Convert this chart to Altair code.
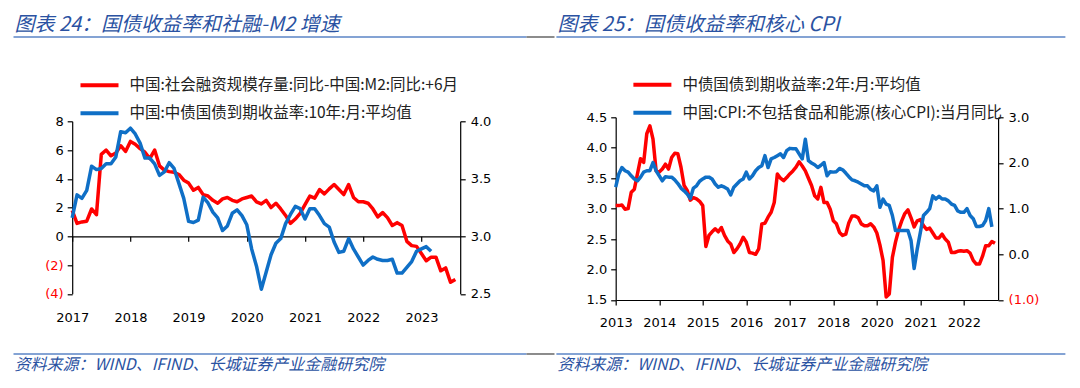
import json
import altair as alt
import pandas as pd

RED = "#FF0000"
BLUE = "#0F6FC6"
TITLE_COLOR = "#2A52A2"
RULE_BLUE = "#5B85C6"
RULE_GRAY = "#666666"
CJK = "Noto Sans CJK SC"
NUM = "DejaVu Sans"

# ---------------- texts ----------------
TITLE_L = "图表 24：国债收益率和社融-M2 增速"
TITLE_R = "图表 25：国债收益率和核心 CPI"
SOURCE = "资料来源：WIND、IFIND、长城证券产业金融研究院"

L_RED_NAME = "中国:社会融资规模存量:同比-中国:M2:同比:+6月"
L_BLUE_NAME = "中国:中债国债到期收益率:10年:月:平均值"
R_RED_NAME = "中债国债到期收益率:2年:月:平均值"
R_BLUE_NAME = "中国:CPI:不包括食品和能源(核心CPI):当月同比"

# ---------------- left chart data (monthly, from 2017-01) ----------------
left_red = [1.8, 0.9, 1.0, 1.05, 1.9, 1.5, 5.7, 6.0, 5.6, 5.8,
            6.3, 5.9, 6.6, 6.4, 6.1, 5.85, 5.4, 6.0, 4.9, 4.6,
            4.5, 4.45, 4.3, 3.9, 3.7, 3.2, 3.4, 2.9, 2.8, 2.5,
            2.3, 2.6, 2.7, 2.5, 2.4, 2.6, 2.7, 2.8, 2.4, 2.25,
            2.5, 2.0, 2.3, 1.9, 1.45, 0.9, 1.2, 1.6, 2.2, 2.8,
            2.65, 3.25, 2.95, 3.3, 3.6, 3.25, 2.9, 3.6, 2.7, 2.4,
            2.4, 2.3, 1.9, 1.35, 1.65, 1.3, 0.75, 0.95, 0.75, -0.35,
            -0.65, -0.7, -1.2, -1.7, -1.45, -1.45, -2.4, -2.2, -3.2, -3.0]
left_blue = [3.16, 3.36, 3.33, 3.40, 3.61, 3.58, 3.59, 3.63, 3.63, 3.69,
             3.91, 3.90, 3.94, 3.89, 3.81, 3.68, 3.68, 3.63, 3.53, 3.56,
             3.64, 3.59, 3.46, 3.33, 3.13, 3.12, 3.14, 3.34, 3.29, 3.21,
             3.16, 3.05, 3.09, 3.20, 3.23, 3.18, 3.10, 2.89, 2.74, 2.54,
             2.69, 2.84, 2.94, 2.98, 3.11, 3.19, 3.26, 3.24, 3.15, 3.24,
             3.24, 3.18, 3.11, 3.08, 2.95, 2.86, 2.87, 2.98, 2.89, 2.82,
             2.75, 2.79, 2.82, 2.80, 2.79, 2.79, 2.80, 2.68, 2.68, 2.73,
             2.78, 2.87, 2.89, 2.91, 2.87]
L_TICKS = [0, 12, 24, 36, 48, 60, 72]
L_YEARS = ["2017", "2018", "2019", "2020", "2021", "2022", "2023"]
L_Y_LEFT = [-4, -2, 0, 2, 4, 6, 8]
L_Y_RIGHT = [2.5, 3.0, 3.5, 4.0]

# ---------------- right chart data (monthly, from 2013-01) ----------------
right_red = [3.05, 3.05, 3.06, 2.99, 3.00, 3.27, 3.32, 3.57, 3.82, 3.76,
             4.23, 4.36, 4.14, 3.62, 3.60, 3.65, 3.73, 3.65, 3.84, 3.91,
             3.90, 3.68, 3.38, 3.30, 3.14, 3.18, 3.16, 3.12, 3.05, 2.38,
             2.56, 2.62, 2.67, 2.62, 2.69, 2.56, 2.47, 2.42, 2.28, 2.34,
             2.42, 2.53, 2.45, 2.28, 2.27, 2.25, 2.34, 2.75, 2.76, 2.86,
             2.94, 3.10, 3.57, 3.50, 3.46, 3.51, 3.57, 3.62, 3.68, 3.77,
             3.70, 3.62, 3.50, 3.38, 3.21, 3.16, 3.35, 3.10, 3.10, 2.99,
             2.80, 2.75, 2.61, 2.56, 2.58, 2.77, 2.88, 2.88, 2.85, 2.75,
             2.72, 2.72, 2.75, 2.70, 2.60, 2.40, 2.15, 1.55, 1.60, 2.20,
             2.45, 2.65, 2.80, 2.92, 2.98, 2.85, 2.70, 2.80, 2.82, 2.72,
             2.66, 2.68, 2.60, 2.52, 2.52, 2.58, 2.50, 2.45, 2.28, 2.28,
             2.30, 2.31, 2.30, 2.31, 2.27, 2.15, 2.09, 2.09, 2.22, 2.39,
             2.39, 2.46, 2.43]
right_blue = [1.47, 1.76, 1.90, 1.83, 1.80, 1.72, 1.65, 1.61, 1.69, 1.80,
              1.83, 1.83, 2.01, 1.83, 1.72, 1.61, 1.70, 1.69, 1.69, 1.63,
              1.55, 1.45, 1.39, 1.32, 1.22, 1.45, 1.50, 1.60, 1.65, 1.69,
              1.69, 1.65, 1.54, 1.47, 1.50, 1.47, 1.43, 1.30, 1.47, 1.54,
              1.61, 1.65, 1.80, 1.65, 1.72, 1.83, 1.90, 1.94, 2.16, 1.90,
              2.09, 2.12, 2.16, 2.20, 2.12, 2.27, 2.32, 2.31, 2.31, 2.20,
              2.09, 2.52, 2.05, 2.00, 1.96, 1.90, 1.95, 2.01, 1.72, 1.81,
              1.80, 1.81, 1.88, 1.85, 1.78, 1.70, 1.63, 1.61, 1.58, 1.54,
              1.50, 1.50, 1.42, 1.39, 1.50, 1.03, 1.21, 1.10, 1.07, 0.85,
              0.52, 0.52, 0.52, 0.52, 0.52, 0.30, -0.31, 0.12, 0.48, 0.85,
              0.92, 1.00, 1.28, 1.21, 1.27, 1.21, 1.21, 1.17, 1.10, 1.07,
              0.95, 0.92, 0.92, 1.00, 0.85, 0.78, 0.61, 0.61, 0.63, 0.74,
              1.00, 0.60]
R_TICKS = [0, 14, 28, 42, 56, 70, 84, 98, 112]
R_YEARS = ["2013", "2014", "2015", "2016", "2017", "2018", "2020", "2021", "2022"]
R_Y_LEFT = [1.5, 2.0, 2.5, 3.0, 3.5, 4.0, 4.5]
R_Y_RIGHT = [-1, 0, 1, 2, 3]


def frame(values, name):
    return pd.DataFrame({"m": list(range(len(values))), "v": values, "s": name})


def tick_expr(pos, labels):
    p = json.dumps(pos)
    lab = json.dumps(labels, ensure_ascii=False)
    return f"indexof({p}, datum.value) >= 0 ? {lab}[indexof({p}, datum.value)] : ''"


def paren_expr(fmt):
    return (f"datum.value < 0 ? '(' + format(-datum.value, '{fmt}') + ')' "
            f": format(datum.value, '{fmt}')")


NEG_COLOR = {"condition": {"test": "datum.value < 0", "value": RED}, "value": "#000000"}


def legend(lx, ly):
    return alt.Legend(orient="none", legendX=lx, legendY=ly, title=None,
                      direction="vertical", symbolType="stroke", symbolSize=1444,
                      symbolStrokeWidth=4, labelFont=CJK, labelFontSize=15.5,
                      labelColor="#222222", labelLimit=0, rowPadding=11,
                      clipHeight=16, labelOffset=9, padding=0)


# both panels share the same plot-origin row (page y)
OY = 118.3


def decorations(ox, tx, title, rule_segments):
    """ox: page x of the plot origin; tx: page x of the texts."""
    layers = []
    layers.append(
        alt.Chart(pd.DataFrame({"t": [title]})).mark_text(
            align="left", baseline="top", font=CJK, fontSize=20,
            fontStyle="italic", color=TITLE_COLOR
        ).encode(x=alt.value(tx - ox), y=alt.value(16 - OY), text="t:N")
    )
    for (xa, xb, color) in rule_segments:
        for yy in (38, 355):
            layers.append(
                alt.Chart(pd.DataFrame({"a": [0]})).mark_rule(color=color, strokeWidth=1.5).encode(
                    x=alt.value(xa - ox), x2=alt.value(xb - ox), y=alt.value(yy - OY))
            )
    layers.append(
        alt.Chart(pd.DataFrame({"t": [SOURCE]})).mark_text(
            align="left", baseline="top", font=CJK, fontSize=16,
            fontStyle="italic", color=TITLE_COLOR
        ).encode(x=alt.value(tx - ox), y=alt.value(358 - OY), text="t:N")
    )
    return layers


# ---------------- left panel ----------------
# plot area spans page y 118.3 .. 294.8; the axes themselves start at page y 122.3
W_L, H_L = 388, 176.5
OX_L = 71.7
Y_RANGE_L = [H_L, 4.0]

x_l = alt.X("m:Q", scale=alt.Scale(domain=[0, 80], nice=False, zero=False),
            axis=alt.Axis(values=L_TICKS, labelExpr=tick_expr(L_TICKS, L_YEARS),
                          offset=-57.5, tickSize=5, labelPadding=70, grid=False,
                          title=None, labelFlush=False, labelOverlap=False))
color_l = alt.Color("s:N", scale=alt.Scale(domain=[L_RED_NAME, L_BLUE_NAME], range=[RED, BLUE]),
                    legend=legend(6.3, -40))

l_red = alt.Chart(frame(left_red, L_RED_NAME)).mark_line(strokeWidth=3.5, strokeJoin="round").encode(
    x=x_l,
    y=alt.Y("v:Q", scale=alt.Scale(domain=[-4, 8], range=Y_RANGE_L, nice=False, zero=False),
            axis=alt.Axis(orient="left", values=L_Y_LEFT, labelExpr=paren_expr("d"),
                          labelColor=NEG_COLOR, title=None, grid=False, tickSize=5, labelPadding=4)),
    color=color_l,
)
l_blue = alt.Chart(frame(left_blue, L_BLUE_NAME)).mark_line(strokeWidth=3.5, strokeJoin="round").encode(
    x=x_l,
    y=alt.Y("v:Q", scale=alt.Scale(domain=[2.5, 4.0], range=Y_RANGE_L, nice=False, zero=False),
            axis=alt.Axis(orient="right", values=L_Y_RIGHT, format=".1f",
                          title=None, grid=False, tickSize=5, labelPadding=5)),
    color=color_l,
)
left = alt.layer(
    l_red, l_blue,
    *decorations(OX_L, 14, TITLE_L, [(13, 526, RULE_BLUE), (526, 554, RULE_GRAY)])
).resolve_scale(y="independent").properties(width=W_L, height=H_L)

# ---------------- right panel ----------------
W_R, H_R = 382.4, 182.7
OX_R = 613.3

x_r = alt.X("m:Q", scale=alt.Scale(domain=[0, 123], nice=False, zero=False),
            axis=alt.Axis(values=R_TICKS, labelExpr=tick_expr(R_TICKS, R_YEARS),
                          tickSize=5, labelPadding=12, grid=False, title=None,
                          labelFlush=False, labelOverlap=False))
color_r = alt.Color("s:N", scale=alt.Scale(domain=[R_RED_NAME, R_BLUE_NAME], range=[RED, BLUE]),
                    legend=legend(15.7, -40.5))

r_red = alt.Chart(frame(right_red, R_RED_NAME)).mark_line(strokeWidth=3.5, strokeJoin="round").encode(
    x=x_r,
    y=alt.Y("v:Q", scale=alt.Scale(domain=[1.5, 4.5], nice=False, zero=False),
            axis=alt.Axis(orient="left", values=R_Y_LEFT, format=".1f", title=None,
                          grid=False, tickSize=5, labelPadding=4)),
    color=color_r,
)
r_blue = alt.Chart(frame(right_blue, R_BLUE_NAME)).mark_line(strokeWidth=3.5, strokeJoin="round").encode(
    x=x_r,
    y=alt.Y("v:Q", scale=alt.Scale(domain=[-1, 3], nice=False, zero=False),
            axis=alt.Axis(orient="right", values=R_Y_RIGHT, labelExpr=paren_expr(".1f"),
                          labelColor=NEG_COLOR, title=None, grid=False, tickSize=5, labelPadding=5)),
    color=color_r,
)
right = alt.layer(
    r_red, r_blue,
    *decorations(OX_R, 555, TITLE_R, [(554, 1063, RULE_BLUE)])
).resolve_scale(y="independent").properties(width=W_R, height=H_R)

chart = alt.hconcat(left, right, spacing=-1.5).resolve_scale(
    color="independent"
).resolve_legend(color="independent").properties(
    padding={"left": 4.2, "top": 6.3, "right": 4, "bottom": 6},
    background="white",
).configure_view(stroke=None).configure_axis(
    domainColor="#000000", tickColor="#000000", domainWidth=1.2, tickWidth=1.2,
    labelFont=NUM, labelFontSize=13, labelColor="#000000",
)

chart.save("out.html", embed_options={"renderer": "svg", "actions": False})
